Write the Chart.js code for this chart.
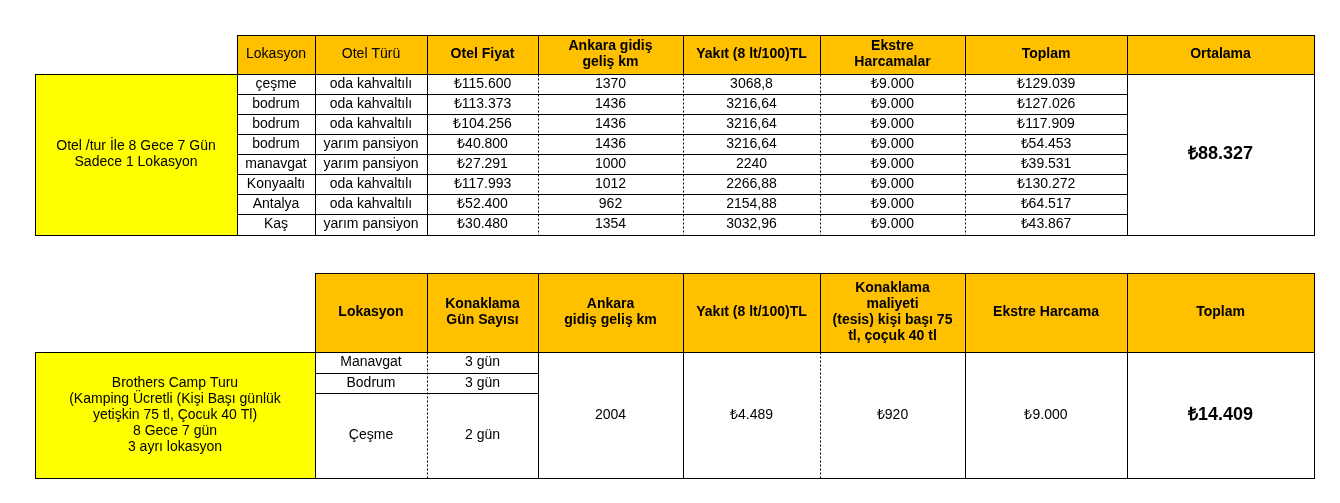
<!DOCTYPE html>
<html><head><meta charset="utf-8">
<script src="https://cdn.jsdelivr.net/npm/chart.js@4"></script>
<style>body{margin:0;background:#fff}</style>
</head><body>
<canvas id="c" width="1340" height="503"></canvas>
<script>
// table 1 data
var lok1 = ['çeşme','bodrum','bodrum','bodrum','manavgat','Konyaaltı','Antalya','Kaş'];
var otel1 = ['oda kahvaltılı','oda kahvaltılı','oda kahvaltılı','yarım pansiyon','yarım pansiyon','oda kahvaltılı','oda kahvaltılı','yarım pansiyon'];
var fiyat1 = ['₺115.600','₺113.373','₺104.256','₺40.800','₺27.291','₺117.993','₺52.400','₺30.480'];
var km1 = ['1370','1436','1436','1436','1000','1012','962','1354'];
var yakit1 = ['3068,8','3216,64','3216,64','3216,64','2240','2266,88','2154,88','3032,96'];
var ekstre1 = ['₺9.000','₺9.000','₺9.000','₺9.000','₺9.000','₺9.000','₺9.000','₺9.000'];
var toplam1 = ['₺129.039','₺127.026','₺117.909','₺54.453','₺39.531','₺130.272','₺64.517','₺43.867'];
var ortalama1 = '₺88.327';
var head1 = ['Lokasyon','Otel Türü','Otel Fiyat','Ankara gidiş\ngeliş km','Yakıt (8 lt/100)TL','Ekstre\nHarcamalar','Toplam','Ortalama'];
var label1 = 'Otel /tur İle 8 Gece 7 Gün\nSadece 1 Lokasyon';

// table 2 data
var head2 = ['Lokasyon','Konaklama\nGün Sayısı','Ankara\ngidiş geliş km','Yakıt (8 lt/100)TL','Konaklama\nmaliyeti\n(tesis) kişi başı 75\ntl, çoçuk 40 tl','Ekstre Harcama','Toplam'];
var lok2 = ['Manavgat','Bodrum','Çeşme'];
var gun2 = ['3 gün','3 gün','2 gün'];
var km2 = '2004', yakit2 = '₺4.489', konak2 = '₺920', ekstre2 = '₺9.000', toplam2 = '₺14.409';
var label2 = 'Brothers Camp Turu\n(Kamping Ücretli (Kişi Başı günlük\nyetişkin 75 tl, Çocuk 40 Tl)\n8 Gece 7 gün\n3 ayrı lokasyon';

var cols1 = [237,315,427,538,683,820,965,1127,1314];
var rows1 = [74,94,114,134,154,174,194,214,235];
var cols2 = [315,427,538,683,820,965,1127,1314];
var rows2 = [352,373,393,478];
var FONT = '"Liberation Sans", Arial, sans-serif';

var tablePlugin = {
  id: 'table',
  afterDraw: function(chart) {
    var c = chart.ctx, sx = chart.scales.x, sy = chart.scales.y;
    function X(v){ return sx.getPixelForValue(v); }
    function Y(v){ return sy.getPixelForValue(v); }
    function fill(x0,y0,x1,y1,col){ c.fillStyle = col; c.fillRect(X(x0),Y(y0),X(x1)-X(x0),Y(y1)-Y(y0)); }
    function rect(x0,y0,x1,y1){ c.setLineDash([]); c.strokeStyle='#000'; c.lineWidth=1; c.strokeRect(X(x0)+0.5,Y(y0)+0.5,X(x1)-X(x0),Y(y1)-Y(y0)); }
    function line(x0,y0,x1,y1,dash){ c.setLineDash(dash?[2,2]:[]); c.strokeStyle='#000'; c.lineWidth=1; c.beginPath(); c.moveTo(Math.round(X(x0))+0.5,Math.round(Y(y0))+0.5); c.lineTo(Math.round(X(x1))+0.5,Math.round(Y(y1))+0.5); c.stroke(); c.setLineDash([]); }
    function text(t,x0,y0,x1,y1,bold,size){
      c.fillStyle='#000'; c.font=(bold?'bold ':'')+(size||14)+'px '+FONT;
      c.textAlign='center'; c.textBaseline='middle';
      var ls = t.split('\n'), lh=(size||14)+2, cy=(Y(y0)+Y(y1))/2 - (ls.length-1)*lh/2;
      ls.forEach(function(s,i){ c.fillText(s,(X(x0)+X(x1))/2,cy+i*lh); });
    }
    // table 1
    fill(cols1[0],35,cols1[8],74,'#FFC000');
    fill(35,74,cols1[0],235,'#FFFF00');
    for (var i=0;i<8;i++){ rect(cols1[i],35,cols1[i+1],74); text(head1[i],cols1[i],35,cols1[i+1],74,i>=2); }
    rect(35,74,cols1[0],235); text(label1,35,74,cols1[0],235,false);
    var cols = [lok1,otel1,fiyat1,km1,yakit1,ekstre1,toplam1];
    for (var r=0;r<8;r++){
      for (var k=0;k<7;k++) text(cols[k][r],cols1[k],rows1[r],cols1[k+1],rows1[r+1],false);
      if (r>0) line(cols1[0],rows1[r],cols1[7],rows1[r],false);
    }
    for (var k=1;k<7;k++) line(cols1[k],74,cols1[k],235,k>=3);
    rect(cols1[0],74,cols1[8],235); line(cols1[7],74,cols1[7],235,false);
    text(ortalama1,cols1[7],74,cols1[8],235,true,18);
    // table 2
    fill(cols2[0],273,cols2[7],352,'#FFC000');
    fill(35,352,cols2[0],478,'#FFFF00');
    for (var i=0;i<7;i++){ rect(cols2[i],273,cols2[i+1],352); text(head2[i],cols2[i],273,cols2[i+1],352,true); }
    rect(35,352,cols2[0],478); text(label2,35,352,cols2[0],478,false);
    for (var r=0;r<3;r++){
      text(lok2[r],cols2[0],rows2[r],cols2[1],rows2[r+1],false);
      text(gun2[r],cols2[1],rows2[r],cols2[2],rows2[r+1],false);
      if (r>0) line(cols2[0],rows2[r],cols2[2],rows2[r],false);
    }
    var merged = [km2,yakit2,konak2,ekstre2,toplam2];
    for (var k=0;k<5;k++) text(merged[k],cols2[k+2],352,cols2[k+3],478,k==4,k==4?18:14);
    rect(cols2[0],352,cols2[7],478);
    for (var k=1;k<7;k++) line(cols2[k],352,cols2[k],478,k==1||k==4);
  }
};

new Chart(document.getElementById('c'), {
  type: 'scatter',
  data: { datasets: [{ data: [] }] },
  options: {
    responsive: false, animation: false,
    layout: { padding: 0 },
    plugins: { legend: { display: false }, tooltip: { enabled: false } },
    scales: {
      x: { type: 'linear', min: 0, max: 1340, display: false },
      y: { type: 'linear', min: 0, max: 503, reverse: true, display: false }
    }
  },
  plugins: [tablePlugin]
});
</script>
</body></html>
